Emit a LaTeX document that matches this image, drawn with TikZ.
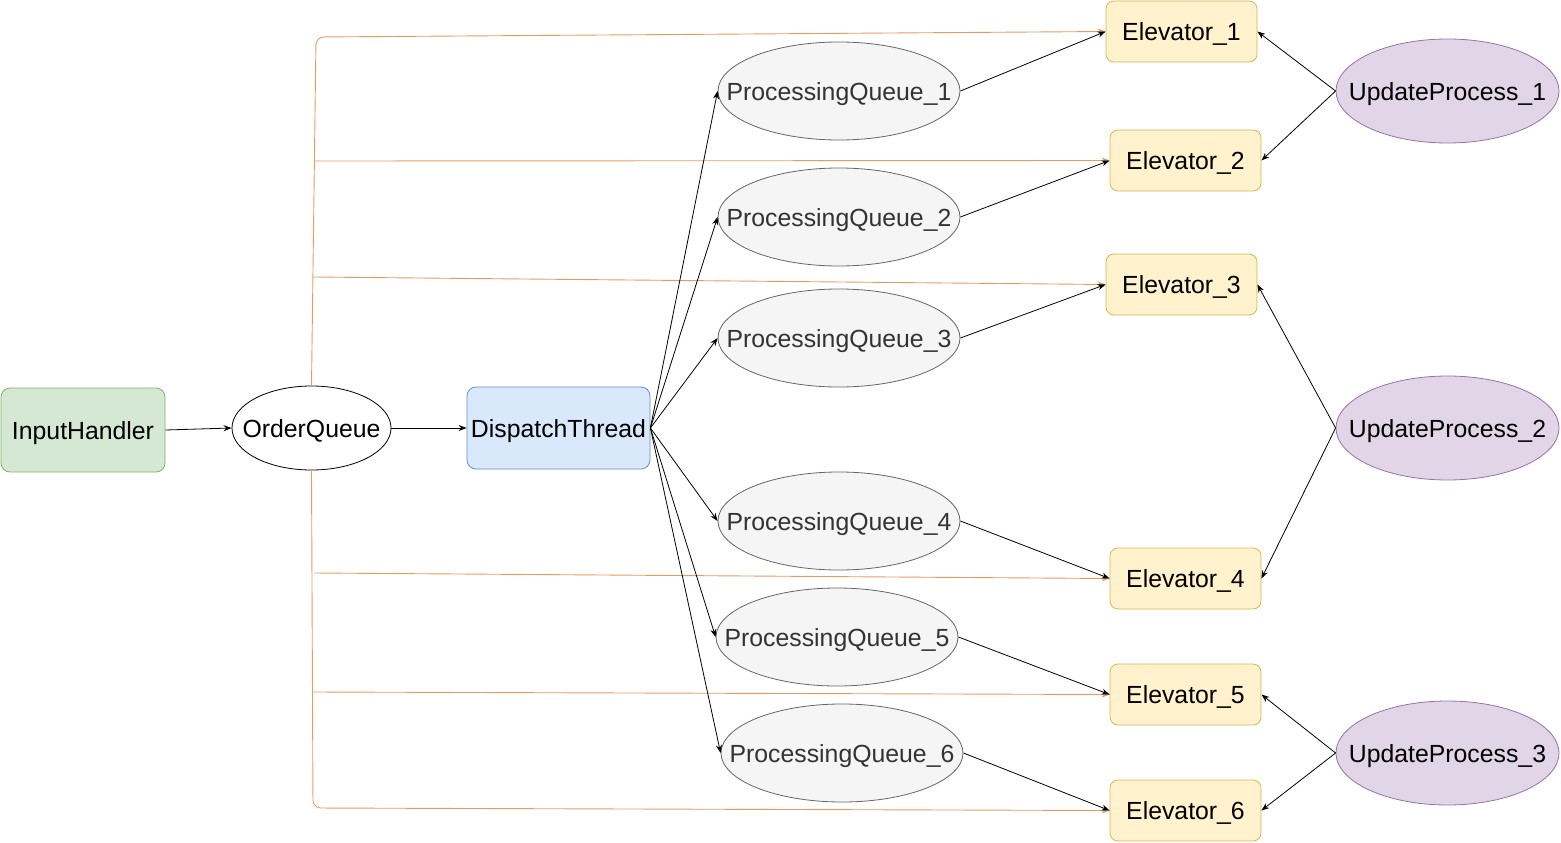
\documentclass[tikz,border=0pt]{standalone}
\usepackage{fontspec}
\setmainfont{Liberation Sans}
\usetikzlibrary{shapes.geometric,arrows.meta}
\definecolor{ihfill}{HTML}{D5E8D4}\definecolor{ihline}{HTML}{82B366}
\definecolor{dtfill}{HTML}{DAE8FC}\definecolor{dtline}{HTML}{6C8EBF}
\definecolor{pqfill}{HTML}{F5F5F5}\definecolor{pqline}{HTML}{666666}\definecolor{pqtext}{HTML}{333333}
\definecolor{elfill}{HTML}{FFF2CC}\definecolor{elline}{HTML}{D6B656}
\definecolor{upfill}{HTML}{E1D5E7}\definecolor{upline}{HTML}{9673A6}
\definecolor{orng}{HTML}{E59C62}
\newcommand{\zw}[1]{\makebox[0pt]{#1}}
\begin{document}
\begin{tikzpicture}[x=1pt,y=-1pt,
  every node/.style={font=\fontsize{24.8}{28}\selectfont, inner sep=0pt, line width=0.8pt, text height=18pt, text depth=0pt},
  ihbox/.style={draw=ihline, fill=ihfill, rounded corners=9pt, minimum width=164pt, minimum height=84pt},
  dtbox/.style={draw=dtline, fill=dtfill, rounded corners=9pt, minimum width=183pt, minimum height=82pt},
  oqell/.style={ellipse, draw=black, fill=white, minimum width=159pt, minimum height=84pt},
  pqell/.style={ellipse, draw=pqline, fill=pqfill, text=pqtext, minimum width=242pt, minimum height=98pt},
  elbox/.style={draw=elline, fill=elfill, rounded corners=8pt, minimum width=151pt, minimum height=61pt},
  upell/.style={ellipse, draw=upline, fill=upfill, minimum width=223pt, minimum height=104pt},
  arr/.style={draw=black, line width=0.8pt, -{Stealth[length=8pt,width=6pt]}},
  org/.style={draw=orng, line width=0.9pt, -{Stealth[length=8pt,width=6pt]}}
]
\useasboundingbox (0,0) rectangle (1561,843);
% nodes
\node[ihbox] (ih) at (83,430) {InputHandler};
\node[oqell] (oq) at (311.5,428) {\zw{OrderQueue}};
\node[dtbox] (dt) at (558.5,428) {DispatchThread};
\node[pqell] (pq1) at (839,91) {\zw{ProcessingQueue\_1}};
\node[pqell] (pq2) at (839,217) {\zw{ProcessingQueue\_2}};
\node[pqell] (pq3) at (839,338) {\zw{ProcessingQueue\_3}};
\node[pqell] (pq4) at (839,521) {\zw{ProcessingQueue\_4}};
\node[pqell] (pq5) at (837,637) {\zw{ProcessingQueue\_5}};
\node[pqell] (pq6) at (842,753) {\zw{ProcessingQueue\_6}};
\node[elbox] (el1) at (1181.5,31.5) {Elevator\_1};
\node[elbox] (el2) at (1185.5,160.5) {Elevator\_2};
\node[elbox] (el3) at (1181.5,284.5) {Elevator\_3};
\node[elbox] (el4) at (1185.5,578.5) {Elevator\_4};
\node[elbox] (el5) at (1185.5,694.5) {Elevator\_5};
\node[elbox] (el6) at (1185.5,810.5) {Elevator\_6};
\node[upell] (up1) at (1447.5,91) {\zw{UpdateProcess\_1}};
\node[upell] (up2) at (1447.5,428) {\zw{UpdateProcess\_2}};
\node[upell] (up3) at (1447.5,753) {\zw{UpdateProcess\_3}};
% orange coordinates
\coordinate (ot) at (316,37);
\coordinate (ob) at (313,808);
\coordinate (o2) at (315,161);
\coordinate (o3) at (313,277);
\coordinate (o4) at (314,573);
\coordinate (o5) at (313,692);
% orange connectors
\draw[org, rounded corners=8pt] (oq.north) -- (ot) -- (el1.west);
\draw[org, rounded corners=8pt] (oq.south) -- (ob) -- (el6.west);
\draw[org] (o2) -- (el2.west);
\draw[org] (o3) -- (el3.west);
\draw[org] (o4) -- (el4.west);
\draw[org] (o5) -- (el5.west);
% black connectors
\draw[arr] (ih.east) -- (oq.west);
\draw[arr] (oq.east) -- (dt.west);
\foreach \p in {pq1,pq2,pq3,pq4,pq5,pq6} {\draw[arr] (dt.east) -- (\p.west);}
\draw[arr] (pq1.east) -- (el1.west);
\draw[arr] (pq2.east) -- (el2.west);
\draw[arr] (pq3.east) -- (el3.west);
\draw[arr] (pq4.east) -- (el4.west);
\draw[arr] (pq5.east) -- (el5.west);
\draw[arr] (pq6.east) -- (el6.west);
\draw[arr] (up1.west) -- (el1.east);
\draw[arr] (up1.west) -- (el2.east);
\draw[arr] (up2.west) -- (el3.east);
\draw[arr] (up2.west) -- (el4.east);
\draw[arr] (up3.west) -- (el5.east);
\draw[arr] (up3.west) -- (el6.east);
\end{tikzpicture}
\end{document}
